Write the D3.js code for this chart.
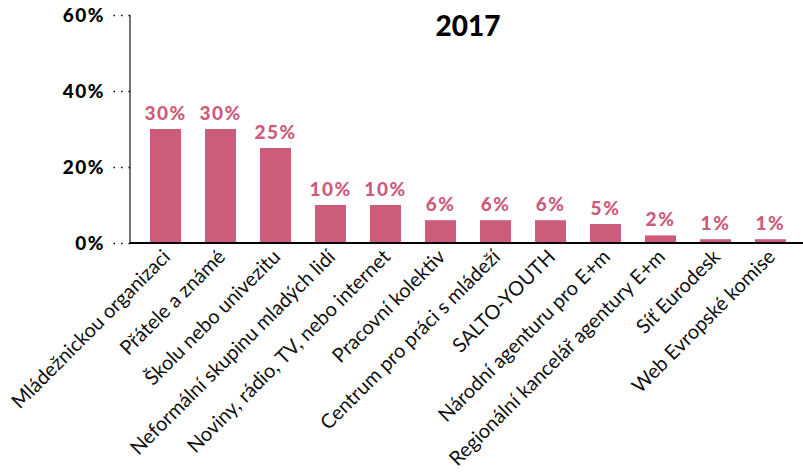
<!DOCTYPE html>
<html>
<head>
<meta charset="utf-8">
<script src="https://cdn.jsdelivr.net/npm/d3@7"></script>
<style>
  body { margin: 0; background: #fff; }
</style>
</head>
<body>
<div id="chart"></div>
<script>
// data
const categories = [
  "Mládežnickou organizaci",
  "Přátele a známé",
  "Školu nebo univezitu",
  "Neformální skupinu mladých lidí",
  "Noviny, rádio, TV, nebo internet",
  "Pracovní kolektiv",
  "Centrum pro práci s mládeží",
  "SALTO-YOUTH",
  "Národní agenturu pro E+m",
  "Regionální kancelář agentury E+m",
  "Síť Eurodesk",
  "Web Evropské komise"
];
const values = [30, 30, 25, 10, 10, 6, 6, 6, 5, 2, 1, 1];
const yTicks = [0, 20, 40, 60];
const title = "2017";

const barColor = "#cd5c7b";

const dimensions = {
  width: 803,
  height: 476,
  margin: { top: 15, right: 0, bottom: 233, left: 130 }
};
dimensions.boundedWidth = 676;
dimensions.boundedHeight = dimensions.height - dimensions.margin.top - dimensions.margin.bottom;

const wrapper = d3.select("#chart")
  .append("svg")
    .attr("width", dimensions.width)
    .attr("height", dimensions.height);

const bounds = wrapper.append("g")
  .attr("transform", `translate(${dimensions.margin.left},${dimensions.margin.top})`);

// scales
const xScale = d3.scaleBand()
  .domain(categories)
  .range([0, dimensions.boundedWidth])
  .paddingInner(0.436)
  .paddingOuter(0.364);

const yScale = d3.scaleLinear()
  .domain([0, 60])
  .range([dimensions.boundedHeight, 0]);

// bars
bounds.selectAll("rect.bar")
  .data(values)
  .join("rect")
    .attr("class", "bar")
    .attr("x", (d, i) => xScale(categories[i]))
    .attr("width", xScale.bandwidth())
    .attr("y", d => yScale(d))
    .attr("height", d => dimensions.boundedHeight - yScale(d))
    .attr("fill", barColor);

// value labels
bounds.selectAll("text.value")
  .data(values)
  .join("text")
    .attr("class", "value")
    .attr("x", (d, i) => xScale(categories[i]) + xScale.bandwidth() / 2)
    .attr("y", d => yScale(d) - 9)
    .attr("text-anchor", "middle")
    .attr("fill", barColor)
    .style("font-family", "Lato, 'Open Sans', sans-serif")
    .style("font-weight", 900)
    .style("font-size", "19px")
    .style("letter-spacing", "1.5px")
    .text(d => d + "%");

// y axis
const yAxis = bounds.append("g")
  .call(d3.axisLeft(yScale).tickValues(yTicks).tickSize(17).tickPadding(8).tickFormat(d => d + "%"));
yAxis.select(".domain").attr("stroke", "#444").attr("stroke-width", 1.5).attr("d", `M0,0V${dimensions.boundedHeight}`);
yAxis.selectAll(".tick line")
  .attr("stroke", "#000")
  .attr("stroke-width", 1.5)
  .attr("stroke-dasharray", "1.5,6");
yAxis.selectAll(".tick text")
  .attr("fill", "#000")
  .style("font-family", "Lato, 'Open Sans', sans-serif")
  .style("font-weight", 900)
  .style("font-size", "19px")
  .style("letter-spacing", "1.5px");

// x axis
const xAxis = bounds.append("g")
  .attr("transform", `translate(0,${dimensions.boundedHeight})`)
  .call(d3.axisBottom(xScale).tickSize(0).tickPadding(0));
xAxis.select(".domain").attr("stroke", "#000").attr("stroke-width", 2)
  .attr("d", `M0,0H${dimensions.width - dimensions.margin.left}`);
xAxis.selectAll(".tick text")
  .attr("fill", "#111")
  .attr("text-anchor", "end")
  .attr("dy", 0)
  .attr("y", 0)
  .attr("transform", "translate(6,15) rotate(-45)")
  .style("font-family", "Lato, sans-serif")
  .style("font-size", "20px");

// title
wrapper.append("text")
  .attr("x", dimensions.margin.left + dimensions.boundedWidth / 2)
  .attr("y", 36)
  .attr("text-anchor", "middle")
  .style("font-family", "Lato, 'Open Sans', sans-serif")
  .style("font-weight", 900)
  .style("font-size", "28px")
  .text(title);
</script>
</body>
</html>
